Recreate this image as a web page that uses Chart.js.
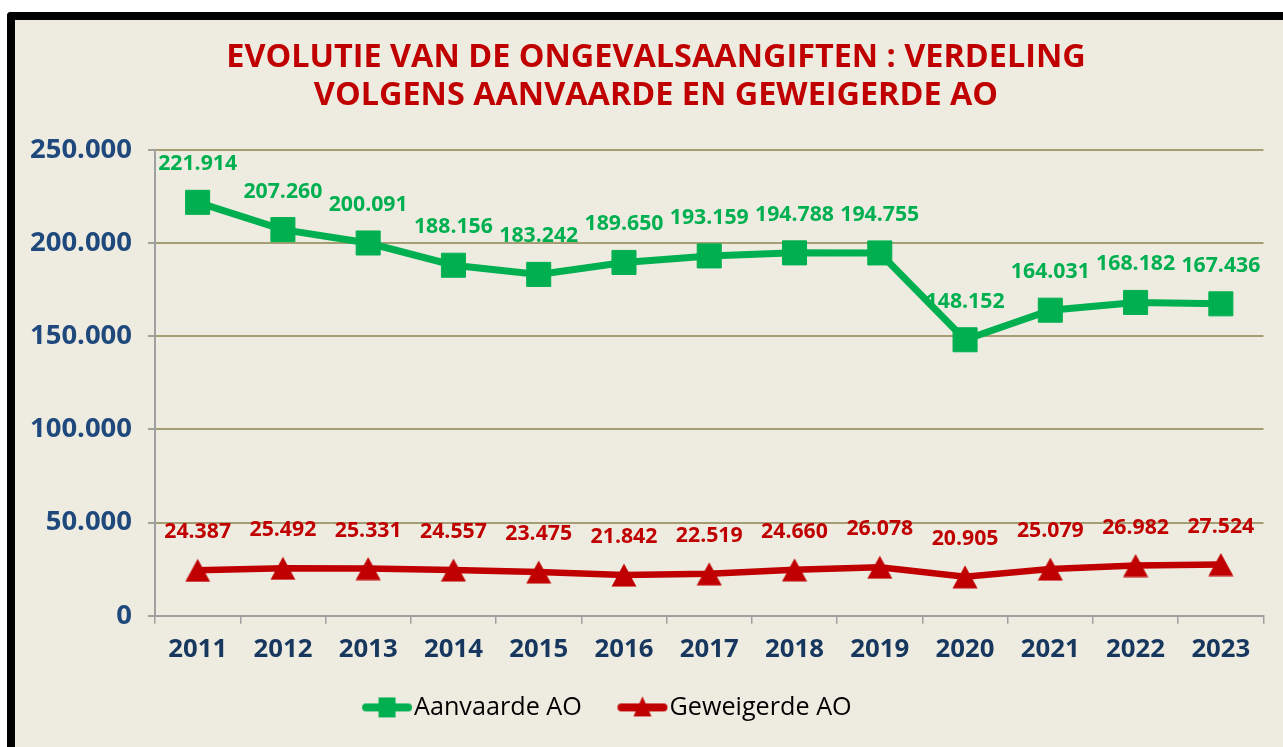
<!DOCTYPE html>
<html>
<head>
<meta charset="utf-8">
<script src="https://cdn.jsdelivr.net/npm/chart.js@4.4.1/dist/chart.umd.min.js"></script>
<style>
html,body{margin:0;padding:0;background:#fff;width:1283px;height:747px;overflow:hidden}
#frame{position:absolute;left:7px;top:12px;width:1320px;height:780px;border-top:8px solid #000;border-left:8px solid #000;border-top-left-radius:4px;background:#EEECE1}
#wrap{position:absolute;left:15px;top:20px;width:1268px;height:727px}
</style>
</head>
<body>
<div id="frame"></div>
<div id="wrap"><canvas id="c"></canvas></div>
<script>
// ---- data ----
const years = ['2011','2012','2013','2014','2015','2016','2017','2018','2019','2020','2021','2022','2023'];
const aanvaarde = [221914, 207260, 200091, 188156, 183242, 189650, 193159, 194788, 194755, 148152, 164031, 168182, 167436];
const geweigerd = [24387, 25492, 25331, 24557, 23475, 21842, 22519, 24660, 26078, 20905, 25079, 26982, 27524];
const seriesNames = ['Aanvaarde AO', 'Geweigerde AO'];
const titleLines = ['EVOLUTIE VAN DE ONGEVALSAANGIFTEN : VERDELING', 'VOLGENS AANVAARDE EN GEWEIGERDE AO'];
const yMin = 0, yMax = 250000, yStep = 50000;

// ---- styling ----
const FAMILY = "'Open Sans', 'Noto Sans', sans-serif";
const GREEN = '#00B050', RED = '#C00000';
const fmt = v => String(v).replace(/\B(?=(\d{3})+(?!\d))/g, '.');

const mctx = document.createElement('canvas').getContext('2d');
function fitSize(text, weight, target) {
  mctx.font = weight + ' 100px ' + FAMILY;
  return 100 * target / mctx.measureText(text).width;
}
const titleSize = fitSize(titleLines[0], 'bold', 860);
const yTickSize = fitSize('250.000', 'bold', 102);
const xTickSize = fitSize('2011', 'bold', 59);
const dlSize = fitSize('221.914', 'bold', 79);
const legSize = fitSize('Aanvaarde AO', 'normal', 168);

// legend marker images (line + marker); visible part 50px wide, placed with a transparent left margin
const LEG_PAD = 10;
const LEG_BOXW = 65;
const IMG_W = 100, IMG_A = IMG_W / 2 - (52 - legSize / 2 - LEG_BOXW / 2);
function legendImg(color, shape) {
  const c = document.createElement('canvas');
  c.width = IMG_W; c.height = 24;
  const g = c.getContext('2d');
  g.translate(IMG_A, 0);
  g.strokeStyle = color; g.fillStyle = color;
  g.lineWidth = 8; g.lineCap = 'round';
  g.beginPath(); g.moveTo(4, 12); g.lineTo(46, 12); g.stroke();
  if (shape === 'rect') {
    g.fillRect(16.5, 2, 17, 20);
  } else {
    g.beginPath(); g.moveTo(25, 1); g.lineTo(34, 21); g.lineTo(16, 21); g.closePath(); g.fill();
  }
  return c;
}
function triImg(color) {
  const c = document.createElement('canvas');
  c.width = 26; c.height = 24;
  const g = c.getContext('2d');
  g.fillStyle = color;
  g.beginPath(); g.moveTo(13, 0.5); g.lineTo(25.5, 23.5); g.lineTo(0.5, 23.5); g.closePath(); g.fill();
  return c;
}
const legImgs = [legendImg(GREEN, 'rect'), legendImg(RED, 'tri')];
const tri = triImg(RED);

const dataLabels = {
  id: 'dataLabels',
  afterDatasetsDraw(chart) {
    const ctx = chart.ctx;
    ctx.save();
    ctx.font = 'bold ' + dlSize + 'px ' + FAMILY;
    ctx.textAlign = 'center';
    ctx.textBaseline = 'middle';
    chart.data.datasets.forEach((ds, i) => {
      const meta = chart.getDatasetMeta(i);
      ctx.fillStyle = ds.labelColor;
      meta.data.forEach((el, j) => {
        ctx.fillText(fmt(ds.data[j]), el.x, el.y - 38);
      });
    });
    ctx.restore();
  }
};

const shiftBoxes = {
  id: 'shiftBoxes',
  afterLayout(chart) {
    const t = chart.titleBlock;
    if (t) { t.left += 16; t.right += 16; }
    const l = chart.legend;
    if (l && l.lineWidths) {
      const cur = (l.left + LEG_PAD + l.right - l.lineWidths[0]) / 2;
      const want = 347 - (LEG_BOXW / 2 - IMG_W / 2 + IMG_A);
      const s = want - cur;
      l.left += s; l.right += s;
    }
  }
};

new Chart(document.getElementById('c'), {
  type: 'line',
  data: {
    labels: years,
    datasets: [
      {
        label: seriesNames[0], data: aanvaarde, labelColor: GREEN,
        borderColor: GREEN, backgroundColor: GREEN, borderWidth: 7,
        pointStyle: 'rect', pointRadius: 17, pointBorderWidth: 1,
        pointBackgroundColor: GREEN, pointBorderColor: GREEN, tension: 0
      },
      {
        label: seriesNames[1], data: geweigerd, labelColor: RED,
        borderColor: RED, backgroundColor: RED, borderWidth: 6.5,
        pointStyle: tri, pointRadius: 13,
        pointBackgroundColor: RED, pointBorderColor: RED, tension: 0
      }
    ]
  },
  options: {
    responsive: true,
    maintainAspectRatio: false,
    animation: false,
    events: [],
    layout: { padding: { left: 0, right: 18, top: 0, bottom: 17 } },
    scales: {
      x: {
        type: 'category',
        offset: true,
        grid: { offset: true, drawOnChartArea: false, tickLength: 8, color: '#A0A0A0', lineWidth: 1.5 },
        border: { color: '#A0A0A0', width: 2 },
        ticks: { color: '#17375E', font: { family: FAMILY, weight: 'bold', size: xTickSize }, padding: 10, maxRotation: 0, autoSkip: false },
        afterFit(s) { s.height = 69; }
      },
      y: {
        min: yMin, max: yMax,
        grid: {
          color: c => (c.tick && c.tick.value === 0) ? '#A0A0A0' : '#A59E74',
          lineWidth: 2, tickLength: 7, tickColor: '#A0A0A0', tickWidth: 2
        },
        border: { color: '#A0A0A0', width: 2 },
        ticks: { stepSize: yStep, color: '#1F497D', font: { family: FAMILY, weight: 'bold', size: yTickSize }, padding: 16, callback: v => fmt(v) },
        afterFit(s) { s.width = 140; }
      }
    },
    plugins: {
      title: {
        display: true, text: titleLines, color: RED,
        font: { family: FAMILY, weight: 'bold', size: titleSize, lineHeight: 38 / titleSize },
        padding: { top: 19, bottom: 35 }
      },
      legend: {
        display: true, position: 'bottom',
        labels: {
          usePointStyle: true, pointStyleWidth: LEG_BOXW, padding: LEG_PAD,
          color: '#000', font: { family: FAMILY, size: legSize },
          generateLabels(chart) {
            const items = Chart.defaults.plugins.legend.labels.generateLabels(chart);
            items.forEach((it, i) => { it.pointStyle = legImgs[i]; it.rotation = 0; it.fontColor = '#000'; });
            return items;
          }
        }
      },
      tooltip: { enabled: false }
    }
  },
  plugins: [dataLabels, shiftBoxes]
});
</script>
</body>
</html>
